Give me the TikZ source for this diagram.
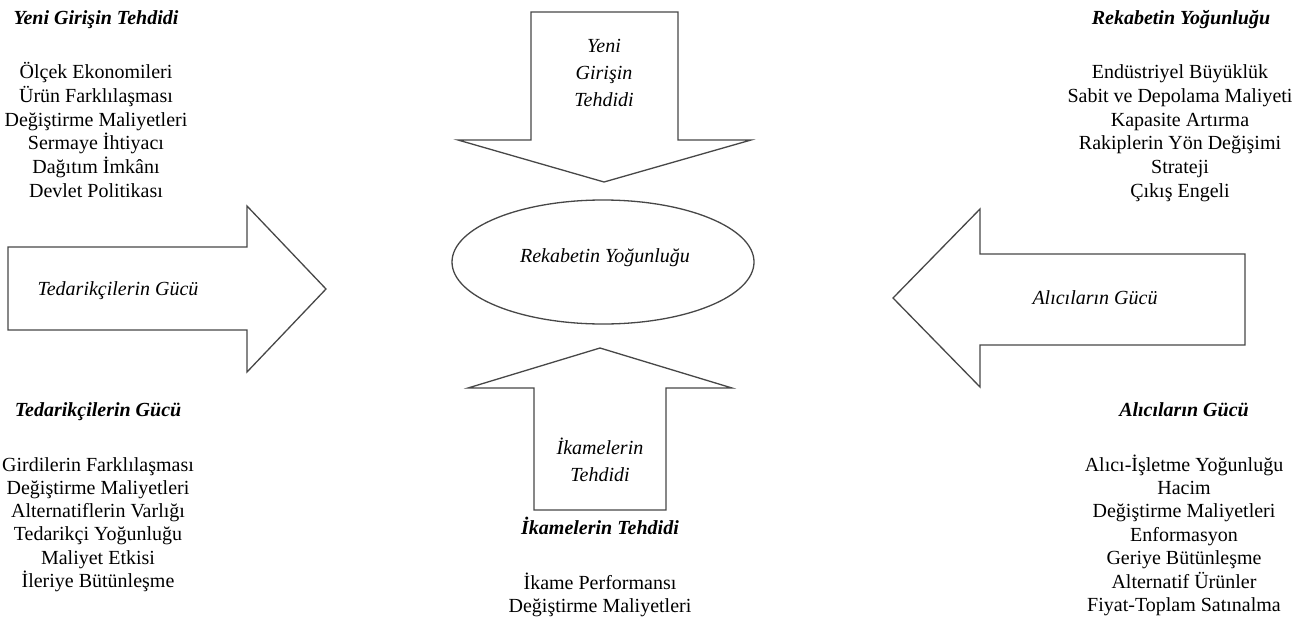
\documentclass[tikz,border=0pt]{standalone}
\usepackage{fontspec}
\setmainfont{Liberation Serif}
\begin{document}
\begin{tikzpicture}[x=1pt,y=-1pt,
  shapeline/.style={draw=black!72,line width=1.3pt,line join=miter,fill=white},
  txt/.style={font=\fontsize{20}{24}\selectfont,anchor=base,inner sep=0pt},
  ttl/.style={font=\fontsize{20}{24}\selectfont\bfseries\itshape,anchor=base,inner sep=0pt},
  itx/.style={font=\fontsize{20}{24}\selectfont\itshape,anchor=base,inner sep=0pt}]
\useasboundingbox[fill=white] (0,0) rectangle (1297,637);

% top arrow (down)
\draw[shapeline] (531,12) -- (678,12) -- (678,140) -- (751,140) -- (604,182) -- (458,140) -- (531,140) -- cycle;
% bottom arrow (up)
\draw[shapeline] (600,348) -- (732,388) -- (666,388) -- (666,510) -- (534,510) -- (534,388) -- (468,388) -- cycle;
% left arrow (right)
\draw[shapeline] (8,247) -- (247,247) -- (247,206) -- (326,289) -- (247,372) -- (247,330) -- (8,330) -- cycle;
% right arrow (left)
\draw[shapeline] (893,298) -- (980,209) -- (980,254) -- (1245,254) -- (1245,345) -- (980,345) -- (980,387) -- cycle;
% ellipse
\draw[shapeline] (603,262) ellipse [x radius=151, y radius=62];

\node[itx] (ell) at (605,262) {Rekabetin Yoğunluğu};
\node[itx] (ta1) at (604,52) {Yeni};
\node[itx] (ta2) at (604,79) {Girişin};
\node[itx] (ta3) at (604,106) {Tehdidi};
\node[itx] (ba1) at (600,454) {İkamelerin};
\node[itx] (ba2) at (600,481) {Tehdidi};
\node[itx] (la) at (118,295) {Tedarikçilerin Gücü};
\node[itx] (ra) at (1095,304) {Alıcıların Gücü};

% left top block
\node[ttl] (t1) at (96,24) {Yeni Girişin Tehdidi};
\foreach \s [count=\i] in {Ölçek Ekonomileri,Ürün Farklılaşması,Değiştirme Maliyetleri,Sermaye İhtiyacı,Dağıtım İmkânı,Devlet Politikası}
  \node[txt] (a\i) at (96,{78.5+23.8*(\i-1)}) {\s};

% right top block
\node[ttl] (t2) at (1181,24) {Rekabetin Yoğunluğu};
\foreach \s [count=\i] in {Endüstriyel Büyüklük,Sabit ve Depolama Maliyeti,Kapasite Artırma,Rakiplerin Yön Değişimi,Strateji,Çıkış Engeli}
  \node[txt] (b\i) at (1180,{78.5+23.8*(\i-1)}) {\s};

% left bottom block
\node[ttl] (t3) at (98,416) {Tedarikçilerin Gücü};
\foreach \s [count=\i] in {Girdilerin Farklılaşması,Değiştirme Maliyetleri,Alternatiflerin Varlığı,Tedarikçi Yoğunluğu,Maliyet Etkisi,İleriye Bütünleşme}
  \node[txt] (c\i) at (98,{471+23.3*(\i-1)}) {\s};

% right bottom block
\node[ttl] (t4) at (1184,416) {Alıcıların Gücü};
\foreach \s [count=\i] in {Alıcı-İşletme Yoğunluğu,Hacim,Değiştirme Maliyetleri,Enformasyon,Geriye Bütünleşme,Alternatif Ürünler,Fiyat-Toplam Satınalma}
  \node[txt] (d\i) at (1184,{471+23.4*(\i-1)}) {\s};

% bottom middle block
\node[ttl] (t5) at (600,534) {İkamelerin Tehdidi};
\node[txt] (e1) at (600,589) {İkame Performansı};
\node[txt] (e2) at (600,612) {Değiştirme Maliyetleri};
\end{tikzpicture}
\end{document}
